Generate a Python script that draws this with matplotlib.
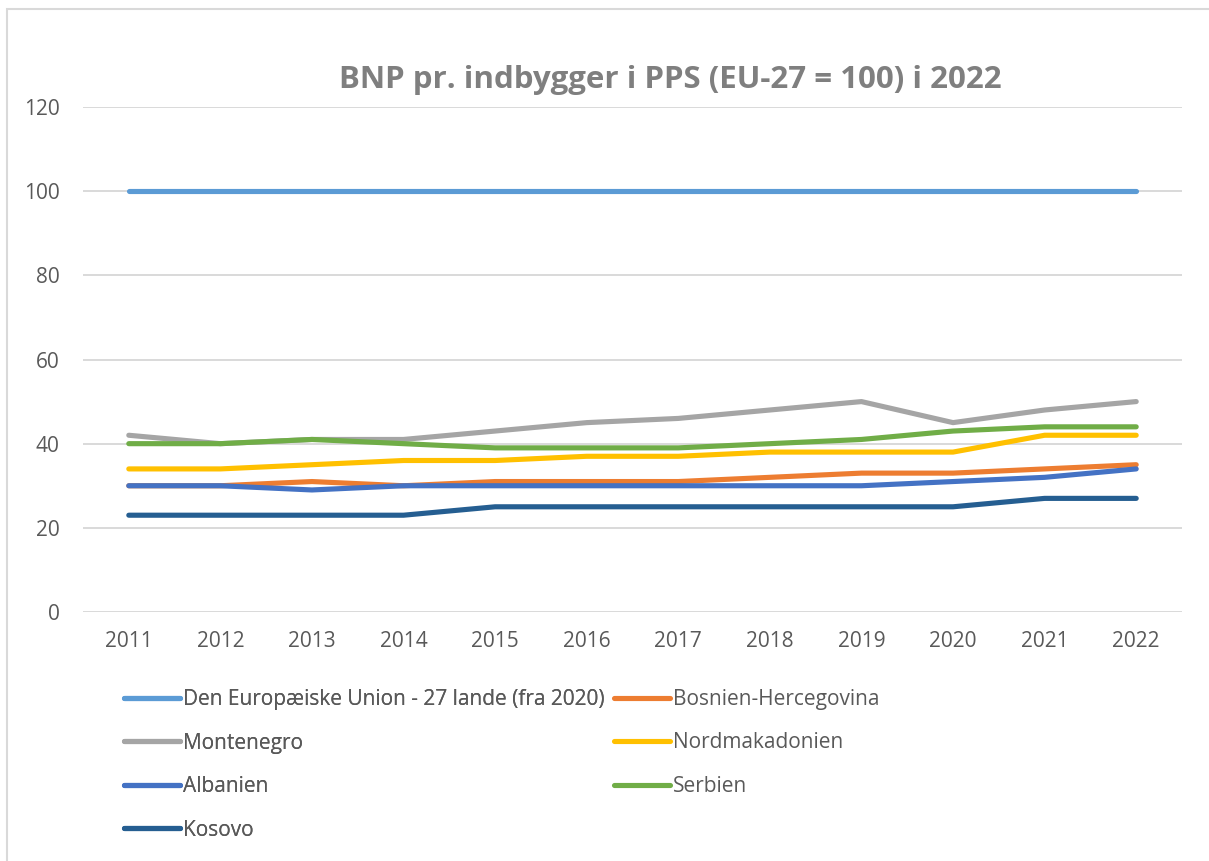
import numpy as np
import matplotlib
matplotlib.use("Agg")
import matplotlib.pyplot as plt
from matplotlib.patches import Rectangle

years = ["2011", "2012", "2013", "2014", "2015", "2016", "2017", "2018", "2019", "2020", "2021", "2022"]

eu27 = [100, 100, 100, 100, 100, 100, 100, 100, 100, 100, 100, 100]
bosnia = [30, 30, 31, 30, 31, 31, 31, 32, 33, 33, 34, 35]
montenegro = [42, 40, 41, 41, 43, 45, 46, 48, 50, 45, 48, 50]
nordmak = [34, 34, 35, 36, 36, 37, 37, 38, 38, 38, 42, 42]
albania = [30, 30, 29, 30, 30, 30, 30, 30, 30, 31, 32, 34]
serbia = [40, 40, 41, 40, 39, 39, 39, 40, 41, 43, 44, 44]
kosovo = [23, 23, 23, 23, 25, 25, 25, 25, 25, 25, 27, 27]

series_names = ["Den Europæiske Union - 27 lande (fra 2020)", "Bosnien-Hercegovina", "Montenegro",
                "Nordmakadonien", "Albanien", "Serbien", "Kosovo"]
series_vals = [eu27, bosnia, montenegro, nordmak, albania, serbia, kosovo]
colors = ["#5B9BD5", "#ED7D31", "#A5A5A5", "#FFC000", "#4472C4", "#70AD47", "#255E91"]

plt.rcParams['font.family'] = ['Open Sans', 'DejaVu Sans']
txt_col = "#595959"
W, H = 1209, 861

fig = plt.figure(figsize=(W / 100, H / 100), dpi=100)
ax = fig.add_axes([83 / W, 1 - 612 / H, (1182 - 83) / W, (612 - 107) / H])

x = np.arange(len(years))
lines = []
for name, vals, c in zip(series_names, series_vals, colors):
    ln, = ax.plot(x, vals, color=c, lw=3.7, solid_capstyle='round', solid_joinstyle='round', label=name)
    lines.append(ln)

ax.set_xlim(-0.5, len(years) - 0.5)
ax.set_ylim(0, 120)
ax.set_yticks(np.arange(0, 121, 20))
ax.set_xticks(x)
ax.set_xticklabels(years)
ax.grid(axis='y', color='#d9d9d9', lw=1.4)
ax.set_axisbelow(True)
for s in ax.spines.values():
    s.set_visible(False)
ax.tick_params(axis='both', length=0, labelsize=15, colors=txt_col)
ax.tick_params(axis='y', pad=17)
ax.tick_params(axis='x', pad=14)

fig.text(670 / W, 1 - 80 / H, "BNP pr. indbygger i PPS (EU-27 = 100) i 2022",
         ha='center', va='center', fontsize=22.5, fontweight='bold', color='#7f7f7f')

# legend in two columns, order like the original
col1 = [0, 2, 4, 6]
col2 = [1, 3, 5]
common = dict(frameon=False, fontsize=15, labelcolor=txt_col, handlelength=2.7,
              handletextpad=0.15, labelspacing=1.08, borderpad=0, borderaxespad=0,
              loc='center left')
leg1 = fig.legend([lines[i] for i in col1], [series_names[i] for i in col1],
                  bbox_to_anchor=(124 / W, 1 - 765 / H), **common)
fig.add_artist(leg1)
fig.legend([lines[i] for i in col2], [series_names[i] for i in col2],
           bbox_to_anchor=(614 / W, 1 - 743 / H), **common)

# outer chart frame (left and top edges visible)
fig.add_artist(Rectangle((6.5 / W, -0.05), 1.1, 1.05 - 9.5 / H, transform=fig.transFigure,
                         fill=False, edgecolor='#d9d9d9', lw=1.5))

fig.savefig("out.png", dpi=100)
